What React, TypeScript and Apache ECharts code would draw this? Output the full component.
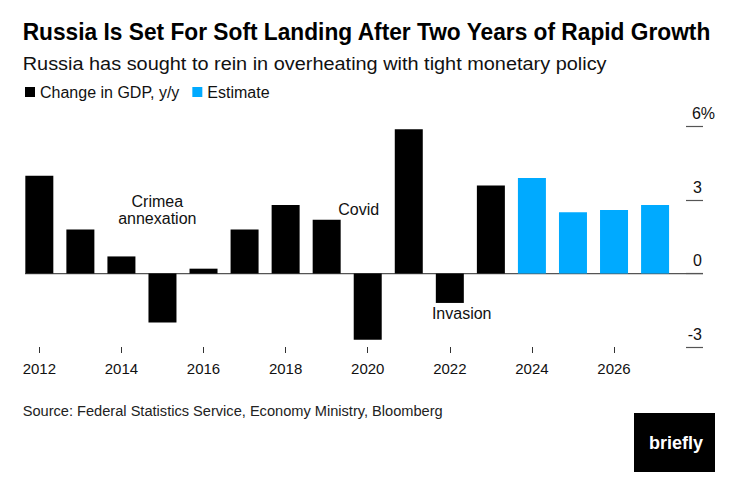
import React, { useEffect, useRef } from 'react';
import * as echarts from 'echarts';

const years = ['2012', '2013', '2014', '2015', '2016', '2017', '2018', '2019', '2020', '2021', '2022', '2023', '2024', '2025', '2026', '2027'];
const gdpActual = [4.0, 1.8, 0.7, -2.0, 0.2, 1.8, 2.8, 2.2, -2.7, 5.9, -1.2, 3.6, null, null, null, null];
const gdpEstimate = [null, null, null, null, null, null, null, null, null, null, null, null, 3.9, 2.5, 2.6, 2.8];
const seriesNames = ['Change in GDP, y/y', 'Estimate'];
const yMin = -3;
const yMax = 6;
const yInterval = 3;

const titleText = 'Russia Is Set For Soft Landing After Two Years of Rapid Growth';
const subtitleText = 'Russia has sought to rein in overheating with tight monetary policy';
const sourceText = 'Source: Federal Statistics Service, Economy Ministry, Bloomberg';
const annotations = [
  { text: 'Crimea\nannexation', x: 157.3, y: 210 },
  { text: 'Covid', x: 358.7, y: 209.2 },
  { text: 'Invasion', x: 461.7, y: 313.5 },
];
const logoText = 'briefly';

const FAMILY = "'Liberation Sans', Arial, Helvetica, sans-serif";

function measure(text: string, weight: string, size: number): number {
  const c = document.createElement('canvas').getContext('2d');
  if (!c) return 1;
  c.font = `${weight} ${size}px 'Liberation Sans', Arial, sans-serif`;
  return c.measureText(text).width || 1;
}

export default function App() {
  const ref = useRef<HTMLDivElement>(null);
  useEffect(() => {
    if (!ref.current) return;
    const chart = echarts.init(ref.current, null, { renderer: 'svg' });
    const option: any = {
      animation: false,
      backgroundColor: '#fff',
      grid: { left: 18.8, right: 80.4, top: 126.7, bottom: 143, containLabel: false, outerBoundsMode: 'none' },
      legend: {
        left: 25,
        top: 84,
        padding: 0,
        itemWidth: 10,
        itemHeight: 10,
        itemGap: 13,
        icon: 'rect',
        selectedMode: false,
        data: seriesNames,
        textStyle: { fontSize: 16, color: '#111', fontFamily: FAMILY },
      },
      xAxis: {
        type: 'category',
        data: years,
        axisLine: { show: false, onZero: false },
        axisTick: { show: true, alignWithLabel: true, interval: 1, length: 6, lineStyle: { color: '#333', width: 1 } },
        axisLabel: { interval: 1, margin: 14, fontSize: 15, color: '#111', fontFamily: FAMILY },
        splitLine: { show: false },
      },
      yAxis: {
        type: 'value',
        position: 'right',
        offset: 10.4,
        min: yMin,
        max: yMax,
        interval: yInterval,
        splitLine: { show: false },
        axisLine: { show: false },
        axisTick: { show: true, length: 17, lineStyle: { color: '#555', width: 1.2 } },
        axisLabel: {
          align: 'right',
          verticalAlign: 'bottom',
          margin: 29,
          padding: [0, 0, 5, 0],
          formatter: (v: number) => (v === yMax ? `{n|${v}}{p|%}` : `{n|${v}}{e| }`),
          rich: {
            n: { fontSize: 16, lineHeight: 16, color: '#111', fontFamily: FAMILY },
            p: { fontSize: 16, lineHeight: 16, color: '#111', fontFamily: FAMILY },
            e: { fontSize: 16, lineHeight: 16, width: 13, fontFamily: FAMILY },
          },
        },
      },
      series: [
        { name: seriesNames[0], type: 'bar', data: gdpActual, barWidth: 28, barGap: '-100%', itemStyle: { color: '#000' }, z: 3 },
        { name: seriesNames[1], type: 'bar', data: gdpEstimate, barWidth: 28, itemStyle: { color: '#00aaff' }, z: 3 },
      ],
    };
    chart.setOption(option);
    const zeroY = chart.convertToPixel({ yAxisIndex: 0 }, 0) as number;

    const titleScale = 689 / measure(titleText, 'bold', 23);
    const subScale = 584.4 / measure(subtitleText, 'normal', 18.5);
    const srcScale = 420.3 / measure(sourceText, 'normal', 15.5);

    chart.setOption({
      graphic: [
        {
          type: 'text', x: 22.7, y: 32.3, scaleX: titleScale,
          style: { text: titleText, fontSize: 23, fontWeight: 'bold', fontFamily: FAMILY, fill: '#000', textAlign: 'left', textVerticalAlign: 'middle' },
        },
        {
          type: 'text', x: 22.7, y: 63.3, scaleX: subScale,
          style: { text: subtitleText, fontSize: 18.5, fontFamily: FAMILY, fill: '#111', textAlign: 'left', textVerticalAlign: 'middle' },
        },
        {
          type: 'text', x: 22.7, y: 410.8, scaleX: srcScale,
          style: { text: sourceText, fontSize: 15.5, fontFamily: FAMILY, fill: '#222', textAlign: 'left', textVerticalAlign: 'middle' },
        },
        ...annotations.map((a) => ({
          type: 'text', x: a.x, y: a.y,
          style: { text: a.text, fontSize: 16, lineHeight: 17, fontFamily: FAMILY, fill: '#111', textAlign: 'center', textVerticalAlign: 'middle' },
        })),
        {
          type: 'line', z: 0,
          shape: { x1: 25, y1: zeroY, x2: 703, y2: zeroY },
          style: { stroke: '#555', lineWidth: 1.2 },
        },
        {
          type: 'rect', shape: { x: 634, y: 413, width: 81, height: 59 },
          style: { fill: '#000' },
        },
        {
          type: 'text', x: 676, y: 443,
          style: { text: logoText, fontSize: 18, fontWeight: 'bold', fontFamily: FAMILY, fill: '#fff', textAlign: 'center', textVerticalAlign: 'middle' },
        },
      ],
    });
    return () => chart.dispose();
  }, []);
  return <div ref={ref} style={{ position: 'fixed', left: 0, top: 0, width: 756, height: 490 }} />;
}
